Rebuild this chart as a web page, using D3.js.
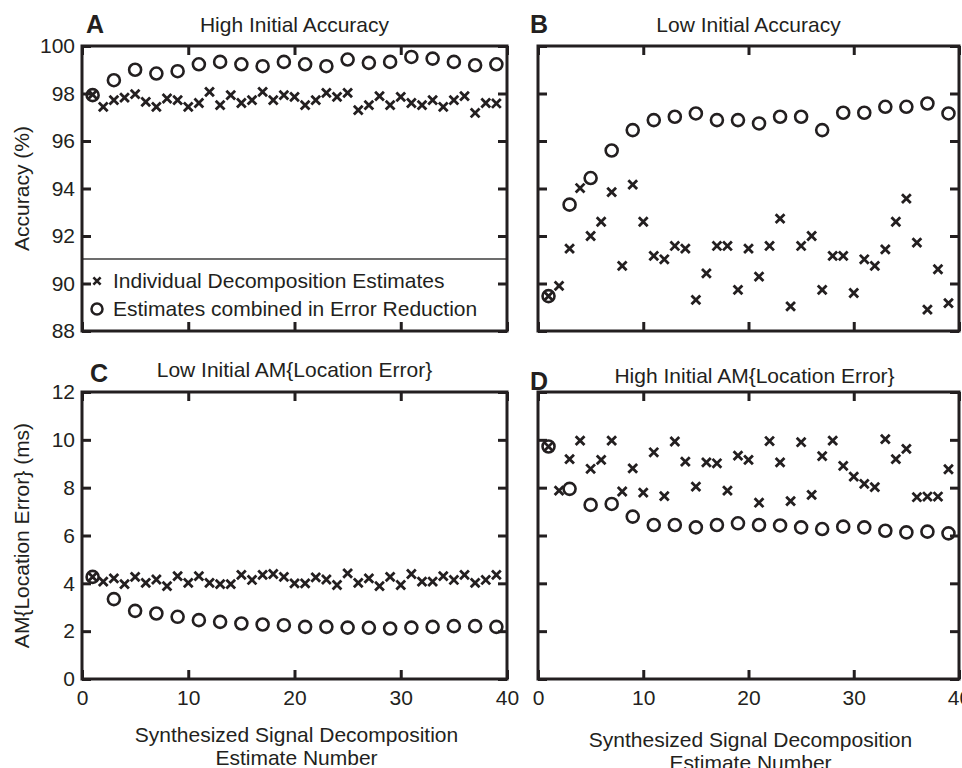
<!DOCTYPE html>
<html><head><meta charset="utf-8">
<script src="https://cdn.jsdelivr.net/npm/d3@7"></script>
<style>
body{margin:0;background:#fff;}
svg text{font-family:"Liberation Sans",Arial,Helvetica,sans-serif;fill:#231f20;}
</style>
</head><body>
<svg id="chart" width="962" height="768"></svg>
<script>
// ---------- data ----------
const estimateNumbers = [1,2,3,4,5,6,7,8,9,10,11,12,13,14,15,16,17,18,19,20,21,22,23,24,25,26,27,28,29,30,31,32,33,34,35,36,37,38,39];
const combinedNumbers = [1,3,5,7,9,11,13,15,17,19,21,23,25,27,29,31,33,35,37,39];
const xTicks = [0,10,20,30,40];
const accuracyTicks = [88,90,92,94,96,98,100];
const errorTicks = [0,2,4,6,8,10,12];

const highAccIndividual = [97.95,97.44,97.72,97.83,97.97,97.65,97.44,97.79,97.72,97.44,97.6,98.07,97.51,97.93,97.6,97.72,98.07,97.72,97.93,97.86,97.51,97.72,98.03,97.86,98.03,97.3,97.51,97.89,97.51,97.86,97.6,97.51,97.72,97.44,97.72,97.89,97.18,97.6,97.58];
const highAccCombined = [97.93,98.56,99.0,98.84,98.94,99.23,99.33,99.23,99.15,99.33,99.23,99.15,99.43,99.29,99.33,99.54,99.47,99.33,99.19,99.23];

const lowAccIndividual = [89.47,89.9,91.47,94.02,92.0,92.6,93.85,90.74,94.16,92.6,91.16,91.02,91.58,91.47,89.31,90.43,91.58,91.58,89.73,91.47,90.29,91.58,92.73,89.04,91.58,92.0,89.73,91.16,91.16,89.6,91.02,90.74,91.44,92.6,93.57,91.72,88.9,90.6,89.17];
const lowAccCombined = [89.47,93.32,94.44,95.6,96.46,96.88,97.02,97.16,96.88,96.88,96.74,97.02,97.02,96.46,97.19,97.19,97.44,97.44,97.58,97.16];

const lowErrIndividual = [4.27,4.07,4.21,3.97,4.27,4.02,4.16,3.88,4.30,4.02,4.30,4.02,3.97,3.97,4.35,4.14,4.35,4.39,4.27,4.0,4.0,4.25,4.16,3.93,4.42,4.02,4.21,3.88,4.27,3.93,4.39,4.07,4.07,4.30,4.14,4.35,4.02,4.14,4.35];
const lowErrCombined = [4.27,3.34,2.85,2.74,2.6,2.46,2.39,2.32,2.28,2.25,2.18,2.18,2.15,2.14,2.11,2.15,2.18,2.21,2.21,2.18];

const highErrIndividual = [9.72,7.88,9.19,9.97,8.79,9.16,9.97,7.84,8.81,7.79,9.48,7.65,9.93,9.09,8.04,9.06,9.02,7.88,9.34,9.16,7.37,9.95,9.06,7.44,9.90,7.7,9.32,9.97,8.91,8.46,8.16,8.02,10.03,9.19,9.62,7.6,7.63,7.63,8.77];
const highErrCombined = [9.72,7.95,7.28,7.32,6.79,6.44,6.44,6.34,6.44,6.51,6.44,6.42,6.34,6.27,6.37,6.34,6.2,6.13,6.16,6.09];

const panelLetters = ["A","B","C","D"];
const panelTitles = ["High Initial Accuracy","Low Initial Accuracy","Low Initial AM{Location Error}","High Initial AM{Location Error}"];
const legendLabels = ["Individual Decomposition Estimates","Estimates combined in Error Reduction"];
const yTitles = ["Accuracy (%)","AM{Location Error} (ms)"];
const xTitleLines = ["Synthesized Signal Decomposition","Estimate Number"];

// ---------- drawing ----------
const INK = "#231f20";
const svg = d3.select("#chart");

const panels = [
  {letter:panelLetters[0], title:panelTitles[0], ind:highAccIndividual, comb:highAccCombined, ticks:accuracyTicks,
   left:82, right:507, top:46, bottom:331, yLabels:true, xLabels:false, titleY:32, letterY:33, letterX:86, legend:true},
  {letter:panelLetters[1], title:panelTitles[1], ind:lowAccIndividual, comb:lowAccCombined, ticks:accuracyTicks,
   left:538, right:959, top:46, bottom:331, yLabels:false, xLabels:false, titleY:32, letterY:33, letterX:530},
  {letter:panelLetters[2], title:panelTitles[2], ind:lowErrIndividual, comb:lowErrCombined, ticks:errorTicks,
   left:82, right:507, top:392, bottom:679, yLabels:true, xLabels:true, titleY:377, letterY:382, letterX:90, xTitleY:[742,765]},
  {letter:panelLetters[3], title:panelTitles[3], ind:highErrIndividual, comb:highErrCombined, ticks:errorTicks,
   left:538, right:959, top:392, bottom:679, yLabels:false, xLabels:true, titleY:383, letterY:390, letterX:530, xTitleY:[747,770]}
];

const crossPath = s => `M${-s},${-s}L${s},${s}M${-s},${s}L${s},${-s}`;

panels.forEach(p => {
  const x = d3.scaleLinear().domain([0,40]).range([p.left, p.right]);
  const y = d3.scaleLinear().domain([p.ticks[0], p.ticks[p.ticks.length-1]]).range([p.bottom, p.top]);
  const g = svg.append("g");

  // points: individual (x) and combined (o)
  g.append("g").selectAll("path").data(p.ind).join("path")
    .attr("transform",(d,i)=>`translate(${x(estimateNumbers[i])},${y(d)})`)
    .attr("d",crossPath(4.4))
    .attr("stroke",INK).attr("stroke-width",2.8).attr("fill","none");
  g.append("g").selectAll("circle").data(p.comb).join("circle")
    .attr("cx",(d,i)=>x(combinedNumbers[i])).attr("cy",d=>y(d)).attr("r",6)
    .attr("stroke",INK).attr("stroke-width",2.6).attr("fill","none");

  // legend
  if (p.legend) {
    const lg = g.append("g");
    lg.append("rect").attr("x",p.left).attr("y",259).attr("width",p.right-p.left).attr("height",p.bottom-259)
      .attr("fill","#fff").attr("stroke","#4a4a4a").attr("stroke-width",1.6);
    lg.append("path").attr("transform","translate(97,281)").attr("d",crossPath(3.6))
      .attr("stroke",INK).attr("stroke-width",2.6).attr("fill","none");
    lg.append("circle").attr("cx",97).attr("cy",309).attr("r",5.5)
      .attr("stroke",INK).attr("stroke-width",2.5).attr("fill","none");
    lg.selectAll("text").data(legendLabels).join("text")
      .attr("x",113).attr("y",(d,i)=>288+i*28).attr("font-size",21).text(d=>d);
  }

  // axes (inward ticks on all four sides)
  const yl = d3.axisLeft(y).tickValues(p.ticks).tickSize(-9).tickPadding(7)
    .tickFormat(p.yLabels ? d3.format("d") : () => "");
  const yr = d3.axisRight(y).tickValues(p.ticks).tickSize(-9).tickFormat(() => "");
  const xb = d3.axisBottom(x).tickValues(xTicks).tickSize(-9).tickPadding(11)
    .tickFormat(p.xLabels ? d3.format("d") : () => "");
  const xt = d3.axisTop(x).tickValues(xTicks).tickSize(-9).tickFormat(() => "");

  const styleAxis = a => {
    a.select(".domain").remove();
    a.selectAll(".tick line").attr("stroke",INK).attr("stroke-width",3);
    a.selectAll(".tick text").attr("font-size",21).attr("fill",INK)
      .style("font-family",'"Liberation Sans",Arial,sans-serif');
  };
  g.append("g").attr("transform",`translate(${p.left},0)`).call(yl).call(styleAxis);
  g.append("g").attr("transform",`translate(${p.right},0)`).call(yr).call(styleAxis);
  g.append("g").attr("transform",`translate(0,${p.bottom})`).call(xb).call(styleAxis);
  g.append("g").attr("transform",`translate(0,${p.top})`).call(xt).call(styleAxis);

  // box
  g.append("rect").attr("x",p.left).attr("y",p.top).attr("width",p.right-p.left).attr("height",p.bottom-p.top)
    .attr("fill","none").attr("stroke",INK).attr("stroke-width",3);

  // title and letter
  g.append("text").attr("x",(p.left+p.right)/2 + (p.letter==="D"?6:0)).attr("y",p.titleY)
    .attr("text-anchor","middle").attr("font-size",21).text(p.title);
  g.append("text").attr("x",p.letterX).attr("y",p.letterY)
    .attr("font-size",25).attr("font-weight","bold").text(p.letter);

  // x titles
  if (p.xTitleY) {
    g.selectAll("text.xt").data(xTitleLines).join("text").attr("class","xt")
      .attr("x",(p.left+p.right)/2 + 2).attr("y",(d,i)=>p.xTitleY[i])
      .attr("text-anchor","middle").attr("font-size",21).text(d=>d);
  }
  // y titles
  if (p.yLabels) {
    const cy = (p.top+p.bottom)/2;
    g.append("text").attr("transform",`translate(29,${cy}) rotate(-90)`)
      .attr("text-anchor","middle").attr("font-size",21)
      .text(p.letter==="A" ? yTitles[0] : yTitles[1]);
  }
});
</script>
</body></html>
